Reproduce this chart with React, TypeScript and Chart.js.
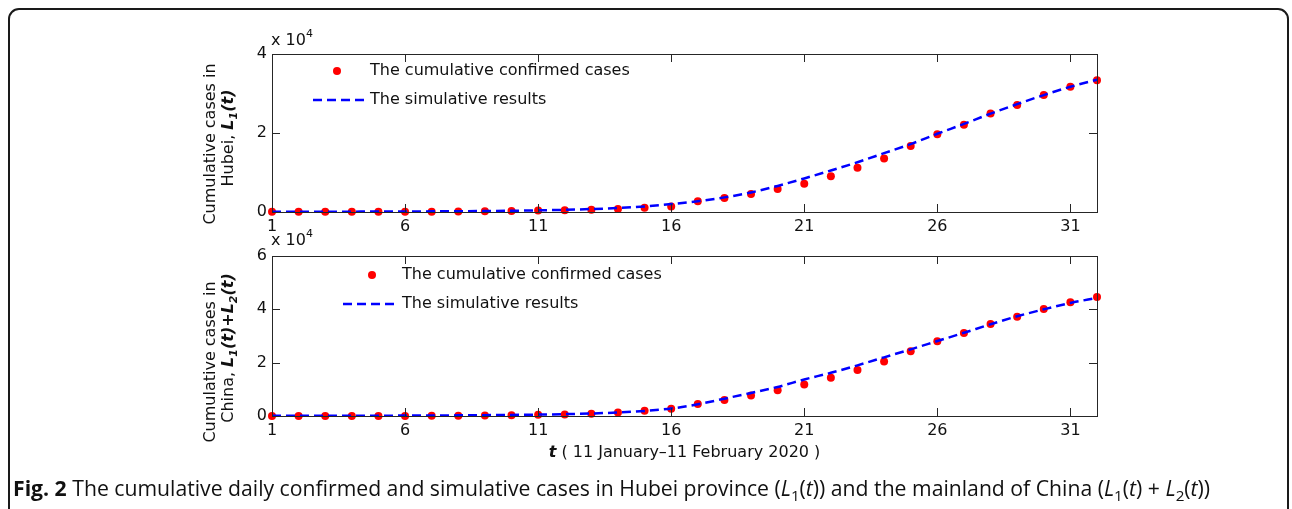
import React, { useEffect, useRef } from "react";
import { Chart, registerables } from "chart.js";
Chart.register(...registerables);

// ---- data ----
const days = [1, 2, 3, 4, 5, 6, 7, 8, 9, 10, 11, 12, 13, 14, 15, 16, 17, 18, 19, 20, 21, 22, 23, 24, 25, 26, 27, 28, 29, 30, 31, 32];
const hubeiConfirmed = [41, 41, 41, 41, 41, 45, 62, 121, 198, 270, 375, 444, 549, 729, 1052, 1423, 2714, 3554, 4586, 5806, 7153, 9074, 11177, 13522, 16678, 19665, 22112, 24953, 27100, 29631, 31728, 33366];
const hubeiSimulated = [50, 60, 75, 90, 110, 135, 165, 200, 250, 320, 420, 560, 750, 1000, 1400, 2000, 2750, 3700, 4950, 6600, 8500, 10500, 12600, 14900, 17200, 19800, 22300, 24900, 27300, 29600, 31700, 33500];
const chinaConfirmed = [41, 41, 41, 41, 41, 45, 62, 121, 198, 291, 440, 571, 830, 1287, 1975, 2744, 4515, 5974, 7711, 9692, 11791, 14380, 17205, 20438, 24324, 28018, 31161, 34546, 37198, 40171, 42638, 44653];
const chinaSimulated = [50, 60, 75, 95, 120, 150, 190, 240, 310, 400, 520, 700, 950, 1300, 1900, 2800, 4400, 6500, 8650, 10900, 13700, 16200, 19000, 22000, 25000, 28100, 31200, 34400, 37400, 40000, 42400, 44300];
const xTickValues = [1, 6, 11, 16, 21, 26, 31];
const hubeiYTicks = [0, 20000, 40000];
const chinaYTicks = [0, 20000, 40000, 60000];
const legendLabels = ["The cumulative confirmed cases", "The simulative results"];

const FAM = '"DejaVu Sans"';
const W = 1292;
const H = 509;

type Seg = { t: string; b?: boolean; i?: boolean; s?: number; dy?: number };
const segFont = (g: Seg) => `${g.i ? "italic " : ""}${g.b ? "bold " : ""}${g.s ?? 16}px ${FAM}`;

function drawRich(ctx: CanvasRenderingContext2D, segs: Seg[], x: number, y: number, center: boolean) {
  let w = 0;
  for (const g of segs) {
    ctx.font = segFont(g);
    w += ctx.measureText(g.t).width;
  }
  let cx = center ? x - w / 2 : x;
  ctx.textAlign = "left";
  ctx.textBaseline = "alphabetic";
  for (const g of segs) {
    ctx.font = segFont(g);
    ctx.fillText(g.t, cx, y + (g.dy ?? 0));
    cx += ctx.measureText(g.t).width;
  }
}

type PanelCfg = {
  confirmed: number[];
  simulated: number[];
  yMax: number;
  yTicks: number[];
  padTop: number;
  padBottom: number;
  legend: { dotX: number; dotY: number; lineX0: number; lineX1: number; lineY: number; textX: number };
  title1: { x: number; y: number };
  title2: { x: number; y: number; segs: Seg[] };
  expY: number;
  xTitle: boolean;
};

function makePlugin(cfg: PanelCfg) {
  return {
    id: "matlabDecor",
    afterDraw(chart: any) {
      const ctx: CanvasRenderingContext2D = chart.ctx;
      const { left, right, top, bottom } = chart.chartArea;
      const xs = chart.scales.x;
      const ys = chart.scales.y;
      ctx.save();
      // box
      ctx.strokeStyle = "#262626";
      ctx.lineWidth = 1;
      ctx.strokeRect(Math.round(left) + 0.5, Math.round(top) + 0.5, Math.round(right - left), Math.round(bottom - top));
      // ticks
      ctx.beginPath();
      for (const v of xTickValues) {
        const px = Math.round(xs.getPixelForValue(v)) + 0.5;
        ctx.moveTo(px, bottom);
        ctx.lineTo(px, bottom - 8);
        ctx.moveTo(px, top);
        ctx.lineTo(px, top + 8);
      }
      for (const v of cfg.yTicks) {
        const py = Math.round(ys.getPixelForValue(v)) + 0.5;
        ctx.moveTo(left, py);
        ctx.lineTo(left + 8, py);
        ctx.moveTo(right, py);
        ctx.lineTo(right - 8, py);
      }
      ctx.stroke();

      ctx.fillStyle = "#111";
      // exponent label
      drawRich(ctx, [{ t: "x 10" }, { t: "4", s: 11, dy: -8 }], 271, cfg.expY, false);

      // legend
      const L = cfg.legend;
      ctx.fillStyle = "#ff0000";
      ctx.beginPath();
      ctx.arc(L.dotX, L.dotY, 4, 0, Math.PI * 2);
      ctx.fill();
      ctx.strokeStyle = "#0000ff";
      ctx.lineWidth = 2.5;
      ctx.setLineDash([9, 5]);
      ctx.beginPath();
      ctx.moveTo(L.lineX0, L.lineY);
      ctx.lineTo(L.lineX1, L.lineY);
      ctx.stroke();
      ctx.setLineDash([]);
      ctx.fillStyle = "#111";
      ctx.font = `16px ${FAM}`;
      ctx.textAlign = "left";
      ctx.textBaseline = "middle";
      ctx.fillText(legendLabels[0], L.textX, L.dotY);
      ctx.fillText(legendLabels[1], L.textX, L.lineY);

      // y-axis title (rotated)
      ctx.save();
      ctx.translate(cfg.title1.x, cfg.title1.y);
      ctx.rotate(-Math.PI / 2);
      drawRich(ctx, [{ t: "Cumulative cases in" }], 0, 0, true);
      ctx.restore();
      ctx.save();
      ctx.translate(cfg.title2.x, cfg.title2.y);
      ctx.rotate(-Math.PI / 2);
      drawRich(ctx, cfg.title2.segs, 0, 0, true);
      ctx.restore();

      if (cfg.xTitle) {
        drawRich(
          ctx,
          [{ t: "t", b: true, i: true }, { t: " ( 11 January\u201311 February 2020 )" }],
          (left + right) / 2,
          457,
          true
        );
      }
      ctx.restore();
    },
  };
}

function buildChart(canvas: HTMLCanvasElement, cfg: PanelCfg) {
  const simPts = days.map((d, k) => ({ x: d, y: cfg.simulated[k] }));
  const obsPts = days.map((d, k) => ({ x: d, y: cfg.confirmed[k] }));
  return new Chart(canvas, {
    type: "line",
    data: {
      datasets: [
        {
          label: legendLabels[1],
          data: simPts,
          borderColor: "#0000ff",
          borderWidth: 2.5,
          borderDash: [9, 5],
          pointRadius: 0,
          cubicInterpolationMode: "monotone",
          fill: false,
          clip: false,
        } as any,
        {
          label: legendLabels[0],
          data: obsPts,
          showLine: false,
          pointRadius: 4,
          pointBackgroundColor: "#ff0000",
          pointBorderColor: "#ff0000",
          pointBorderWidth: 0,
          clip: false,
        } as any,
      ],
    },
    options: {
      responsive: false,
      animation: false,
      events: [],
      layout: { padding: { left: 0, right: W - 1097, top: cfg.padTop, bottom: cfg.padBottom } },
      plugins: { legend: { display: false }, tooltip: { enabled: false } },
      scales: {
        x: {
          type: "linear",
          min: 1,
          max: 32,
          grid: { display: false, drawTicks: false },
          border: { display: false },
          afterBuildTicks: (s: any) => {
            s.ticks = xTickValues.map((v) => ({ value: v }));
          },
          afterFit: (s: any) => {
            s.height = 28;
          },
          ticks: {
            padding: 5,
            maxRotation: 0,
            autoSkip: false,
            color: "#111",
            font: { family: "DejaVu Sans", size: 16 },
            callback: (v: any) => String(v),
          },
        },
        y: {
          type: "linear",
          min: 0,
          max: cfg.yMax,
          grid: { display: false, drawTicks: false },
          border: { display: false },
          afterBuildTicks: (s: any) => {
            s.ticks = cfg.yTicks.map((v) => ({ value: v }));
          },
          afterFit: (s: any) => {
            s.width = 272;
          },
          ticks: {
            padding: 5,
            color: "#111",
            font: { family: "DejaVu Sans", size: 16 },
            callback: (v: any) => String(Number(v) / 10000),
          },
        },
      },
    },
    plugins: [makePlugin(cfg)],
  } as any);
}

const topCfg: PanelCfg = {
  confirmed: hubeiConfirmed,
  simulated: hubeiSimulated,
  yMax: 40000,
  yTicks: hubeiYTicks,
  padTop: 54,
  padBottom: H - 212 - 28,
  legend: { dotX: 337, dotY: 71, lineX0: 313, lineX1: 367, lineY: 100, textX: 370 },
  title1: { x: 215, y: 144 },
  title2: {
    x: 233,
    y: 138,
    segs: [{ t: "Hubei, " }, { t: "L", b: true, i: true }, { t: "1", b: true, i: true, s: 11, dy: 4 }, { t: "(t)", b: true, i: true }],
  },
  expY: 45,
  xTitle: false,
};

const bottomCfg: PanelCfg = {
  confirmed: chinaConfirmed,
  simulated: chinaSimulated,
  yMax: 60000,
  yTicks: chinaYTicks,
  padTop: 256,
  padBottom: H - 416 - 28,
  legend: { dotX: 372, dotY: 275, lineX0: 343, lineX1: 398, lineY: 304, textX: 402 },
  title1: { x: 215, y: 362 },
  title2: {
    x: 233,
    y: 348,
    segs: [
      { t: "China, " },
      { t: "L", b: true, i: true },
      { t: "1", b: true, i: true, s: 11, dy: 4 },
      { t: "(t)+", b: true, i: true },
      { t: "L", b: true, i: true },
      { t: "2", b: true, i: true, s: 11, dy: 4 },
      { t: "(t)", b: true, i: true },
    ],
  },
  expY: 245,
  xTitle: true,
};

export default function App() {
  const topRef = useRef<HTMLCanvasElement>(null);
  const botRef = useRef<HTMLCanvasElement>(null);
  useEffect(() => {
    const c1 = buildChart(topRef.current!, topCfg);
    const c2 = buildChart(botRef.current!, bottomCfg);
    return () => {
      c1.destroy();
      c2.destroy();
    };
  }, []);
  const canvasStyle: React.CSSProperties = { position: "fixed", left: 0, top: 0, width: W, height: H };
  const sub: React.CSSProperties = { fontSize: "0.72em", verticalAlign: "-0.3em", lineHeight: 0 };
  return (
    <div>
      <div
        style={{
          position: "fixed",
          left: 8,
          top: 8,
          width: 1281,
          height: 560,
          border: "2px solid #1a1a1a",
          borderRadius: 11,
          boxSizing: "border-box",
          background: "#fff",
        }}
      />
      <canvas ref={topRef} width={W} height={H} style={canvasStyle} />
      <canvas ref={botRef} width={W} height={H} style={canvasStyle} />
      <div
        style={{
          position: "fixed",
          left: 13,
          top: 473,
          fontFamily: '"Open Sans", sans-serif',
          fontSize: 21.2,
          color: "#111",
          whiteSpace: "nowrap",
        }}
      >
        <b>Fig. 2</b> The cumulative daily confirmed and simulative cases in Hubei province (<i>L</i>
        <span style={sub}>1</span>(<i>t</i>)) and the mainland of China (<i>L</i>
        <span style={sub}>1</span>(<i>t</i>) + <i>L</i>
        <span style={sub}>2</span>(<i>t</i>))
      </div>
    </div>
  );
}
